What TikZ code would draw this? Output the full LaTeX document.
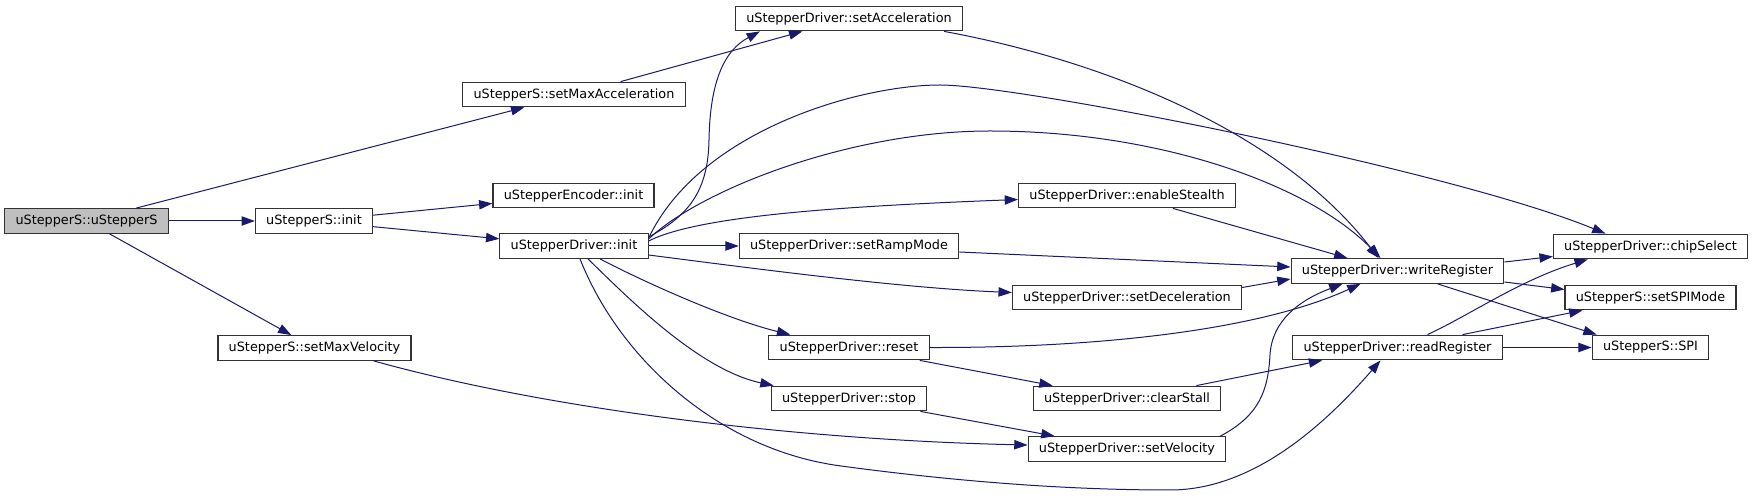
\documentclass[tikz,border=0pt]{standalone}
\usepackage{fontspec}
\setmainfont{DejaVu Sans}
\usetikzlibrary{arrows.meta,calc}
\definecolor{callblue}{RGB}{25,25,112}
\definecolor{rootgray}{RGB}{191,191,191}

\begin{document}
\begin{tikzpicture}[x=0.75pt,y=-0.75pt,font=\fontsize{9.6}{11}\selectfont,
  box/.style={draw=black!80,line width=0.85pt,fill=white,inner xsep=8.1pt,inner ysep=0pt,minimum height=18.5pt},
  call/.style={draw=callblue,line width=0.75pt,-{Triangle[length=10pt,width=7pt]}}]
\useasboundingbox (0,0) rectangle (1753,498);
\node[box,fill=rootgray] (root) at (86.5,221) {uStepperS::uStepperS};
\node[box] (sinit) at (314,221) {uStepperS::init};
\node[box] (setmaxvel) at (314.5,348) {uStepperS::setMaxVelocity};
\node[box] (setmaxacc) at (574,94.5) {uStepperS::setMaxAcceleration};
\node[box] (encinit) at (573.5,195.5) {uStepperEncoder::init};
\node[box] (drvinit) at (574,246) {uStepperDriver::init};
\node[box] (setacc) at (849,18.5) {uStepperDriver::setAcceleration};
\node[box] (ramp) at (849,246) {uStepperDriver::setRampMode};
\node[box] (reset) at (849,347.5) {uStepperDriver::reset};
\node[box] (stop) at (849,398.5) {uStepperDriver::stop};
\node[box] (stealth) at (1127,195.5) {uStepperDriver::enableStealth};
\node[box] (decel) at (1127,297.5) {uStepperDriver::setDeceleration};
\node[box] (clrstall) at (1127,398.5) {uStepperDriver::clearStall};
\node[box] (setvel) at (1127,449) {uStepperDriver::setVelocity};
\node[box] (wreg) at (1397.5,271) {uStepperDriver::writeRegister};
\node[box] (rreg) at (1397.5,347.5) {uStepperDriver::readRegister};
\node[box] (chipsel) at (1650.5,246.5) {uStepperDriver::chipSelect};
\node[box] (spimode) at (1650.5,297.5) {uStepperS::setSPIMode};
\node[box] (spi) at (1650.5,347.5) {uStepperS::SPI};
\draw[call] (root) -- (setmaxacc);
\draw[call] (root) -- (sinit);
\draw[call] (root) -- (setmaxvel);
\draw[call] (sinit) -- (encinit);
\draw[call] (sinit) -- (drvinit);
\draw[call] (setmaxacc) -- (setacc);
\draw[call] ($(setmaxvel.south east)+(-38,0)$) .. controls (550,410) and (800,440) .. ($(setvel.west)+(0,-4)$);
\draw[call] ($(setacc.south east)+(-19,0)$) .. controls (1100,60) and (1280,130) .. ($(wreg.north)+(-19,0)$);
\draw[call] ($(drvinit.east)+(0,-9)$) .. controls (690,215) and (708,190) .. (709,140) .. controls (710,80) and (725,50) .. ($(setacc.south west)+(25,0)$);
\draw[call] ($(drvinit.east)+(0,-8)$) .. controls (700,130) and (860,85) .. (940,85) .. controls (1020,85) and (1450,170) .. ($(chipsel.north)+(-45,0)$);
\draw[call] ($(drvinit.east)+(0,-7)$) .. controls (700,190) and (850,131) .. (990,131) .. controls (1160,131) and (1310,185) .. ($(wreg.north)+(-17,0)$);
\draw[call] ($(drvinit.east)+(0,-5)$) .. controls (700,215) and (850,206) .. ($(stealth.west)+(0,4)$);
\draw[call] (drvinit) -- (ramp);
\draw[call] ($(drvinit.east)+(0,9)$) .. controls (750,268) and (900,288) .. ($(decel.west)+(0,-5)$);
\draw[call] ($(drvinit.south)+(26,0)$) .. controls (650,285) and (730,320) .. ($(reset.north west)+(22,0)$);
\draw[call] ($(drvinit.south)+(14,0)$) .. controls (630,300) and (700,370) .. ($(stop.north west)+(3,0)$);
\draw[call] ($(drvinit.south)+(6,0)$) .. controls (620,360) and (720,450) .. (841,466) .. controls (960,482) and (1070,490) .. (1170,490) .. controls (1250,490) and (1320,430) .. ($(rreg.south)+(-17,0)$);
\draw[call] ($(ramp.east)+(0,6)$) -- ($(wreg.west)+(0,-4)$);
\draw[call] ($(stealth.south)+(46,0)$) -- ($(wreg.north)+(-50,0)$);
\draw[call] ($(decel.east)+(0,-10)$) -- ($(wreg.west)+(0,8)$);
\draw[call] (reset.east) .. controls (1100,348) and (1260,330) .. ($(wreg.south)+(-37,0)$);
\draw[call] ($(reset.south east)+(-10,0)$) -- ($(clrstall.north west)+(20,0)$);
\draw[call] ($(stop.south east)+(-7,0)$) -- ($(setvel.north west)+(27,0)$);
\draw[call] ($(clrstall.north east)+(-25,0)$) -- ($(rreg.south west)+(30,0)$);
\draw[call] ($(setvel.north east)+(-6,0)$) .. controls (1260,415) and (1268,390) .. (1270,355) .. controls (1272,320) and (1300,300) .. ($(wreg.south)+(-55,0)$);
\draw[call] ($(wreg.east)+(0,-9)$) -- ($(chipsel.west)+(0,10)$);
\draw[call] ($(wreg.east)+(0,11)$) -- ($(spimode.west)+(0,-8)$);
\draw[call] ($(wreg.south)+(40,0)$) -- ($(spi.north west)+(5,0)$);
\draw[call] ($(rreg.north)+(30,0)$) .. controls (1470,315) and (1520,280) .. ($(chipsel.south west)+(35,0)$);
\draw[call] ($(rreg.north)+(65,0)$) -- ($(spimode.south west)+(18,0)$);
\draw[call] (rreg) -- (spi);
\end{tikzpicture}
\end{document}
